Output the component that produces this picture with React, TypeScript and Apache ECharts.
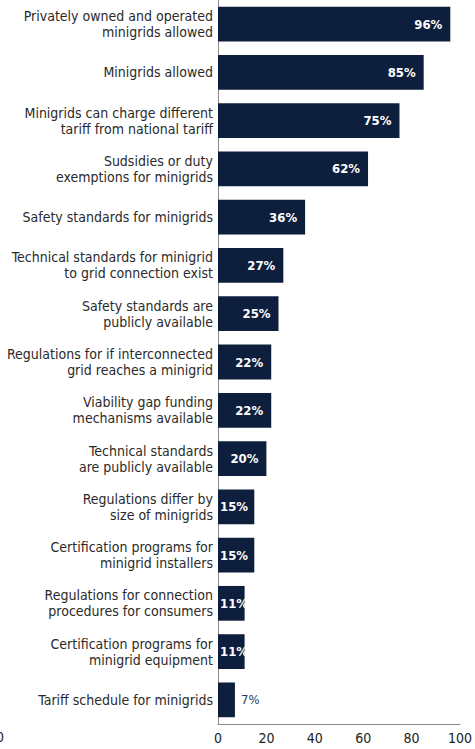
import React, { useEffect, useRef } from "react";
import * as echarts from "echarts";

const categories: string[] = [
  "Privately owned and operated\nminigrids allowed",
  "Minigrids allowed",
  "Minigrids can charge different\ntariff from national tariff",
  "Sudsidies or duty\nexemptions for minigrids",
  "Safety standards for minigrids",
  "Technical standards for minigrid\nto grid connection exist",
  "Safety standards are\npublicly available",
  "Regulations for if interconnected\ngrid reaches a minigrid",
  "Viability gap funding\nmechanisms available",
  "Technical standards\nare publicly available",
  "Regulations differ by\nsize of minigrids",
  "Certification programs for\nminigrid installers",
  "Regulations for connection\nprocedures for consumers",
  "Certification programs for\nminigrid equipment",
  "Tariff schedule for minigrids",
];
const values: number[] = [96, 85, 75, 62, 36, 27, 25, 22, 22, 20, 15, 15, 11, 11, 7];
const xTicks = { min: 0, max: 100, interval: 20 };

const FONT = "'DejaVu Sans Condensed', 'Liberation Sans Narrow', 'Roboto', sans-serif";
const NAVY = "#0e1f3e";

export default function App() {
  const ref = useRef<HTMLDivElement>(null);
  useEffect(() => {
    const chart = echarts.init(ref.current!, null, { renderer: "svg" });
    chart.setOption({
      animation: false,
      grid: { left: 218, right: 11, top: 0, bottom: 25, containLabel: false },
      xAxis: {
        type: "value",
        min: xTicks.min,
        max: xTicks.max,
        interval: xTicks.interval,
        splitLine: { show: false },
        axisTick: { show: false },
        axisLine: { show: true, lineStyle: { color: "#8a8a8a", width: 1 } },
        axisLabel: { color: "#222", fontSize: 14, fontFamily: FONT, margin: 7 },
      },
      yAxis: {
        type: "category",
        inverse: true,
        data: categories,
        axisTick: { show: false },
        axisLine: { show: true, lineStyle: { color: "#8a8a8a", width: 1 } },
        axisLabel: {
          color: "#2a2a2a",
          fontSize: 14,
          fontFamily: FONT,
          lineHeight: 16,
          align: "right",
          margin: 5,
          interval: 0,
        },
      },
      series: [
        {
          type: "bar",
          barWidth: "72%",
          itemStyle: { color: NAVY },
          data: values.map((v) => ({
            value: v,
            label:
              v < 10
                ? {
                    show: true,
                    position: "right",
                    color: "#2b3b5e",
                    fontWeight: "normal",
                    distance: 6,
                  }
                : v < 20
                ? { show: true, position: "insideLeft", color: "#fff", fontWeight: "bold", distance: 2 }
                : { show: true, position: "insideRight", color: "#fff", fontWeight: "bold", distance: 8 },
          })),
          label: {
            show: true,
            fontSize: 13,
            fontFamily: FONT,
            formatter: "{c}%",
          },
        },
      ],
      graphic: [
        {
          type: "text",
          left: -4,
          top: 730,
          style: { text: "0", fontSize: 14, fontFamily: FONT, fill: "#222" },
        },
      ],
    });
    return () => chart.dispose();
  }, []);
  return <div ref={ref} style={{ width: 475, height: 749, position: "absolute", left: 0, top: 0 }} />;
}
